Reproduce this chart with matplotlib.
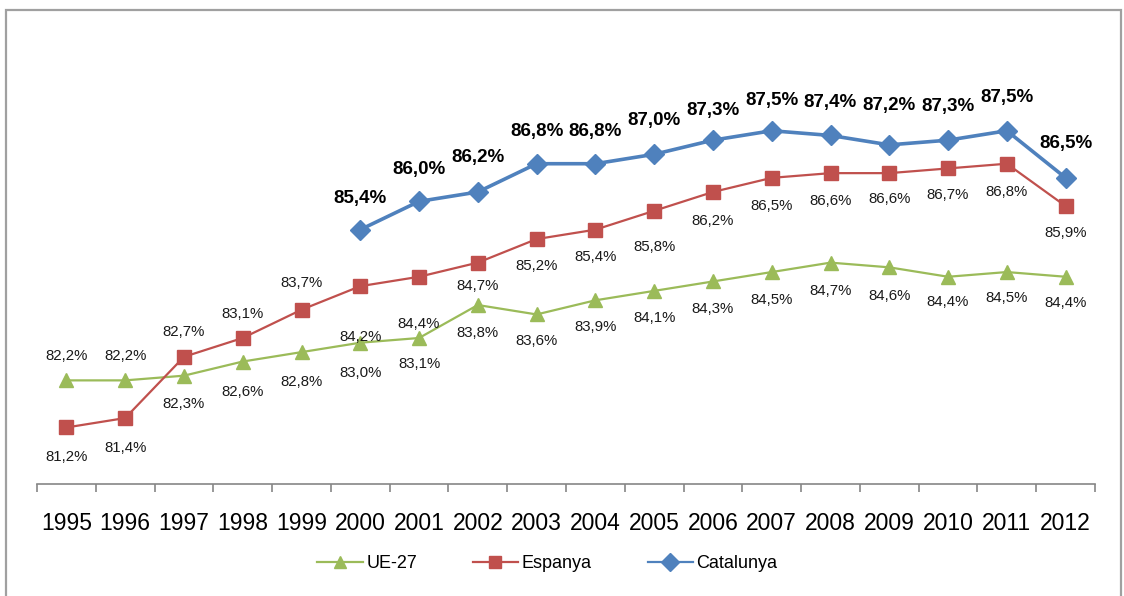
import matplotlib
matplotlib.use("Agg")
import matplotlib.pyplot as plt
from matplotlib.patches import Rectangle

plt.rcParams['font.family'] = ['Liberation Sans', 'DejaVu Sans']

years = [str(y) for y in range(1995, 2013)]
ue27 = [82.2, 82.2, 82.3, 82.6, 82.8, 83.0, 83.1, 83.8, 83.6, 83.9, 84.1,
        84.3, 84.5, 84.7, 84.6, 84.4, 84.5, 84.4]
espanya = [81.2, 81.4, 82.7, 83.1, 83.7, 84.2, 84.4, 84.7, 85.2, 85.4, 85.8,
           86.2, 86.5, 86.6, 86.6, 86.7, 86.8, 85.9]
cat_years = [str(y) for y in range(2000, 2013)]
catalunya = [85.4, 86.0, 86.2, 86.8, 86.8, 87.0, 87.3, 87.5, 87.4, 87.2,
             87.3, 87.5, 86.5]

# vertical label offsets in pixels (positive = above the marker)
ue_off = [24, 24, -28, -30, -30, -30, -26, -28, -27, -27, -27, -28, -28,
          -28, -29, -25, -26, -26]
es_off = [-30, -30, 25, 24, 27, -51, -47, -23, -27, -27, -36, -29, -28,
          -28, -26, -27, -28, -27]
cat_off = [31, 32, 34, 32, 32, 34, 30, 30, 33, 39, 34, 33, 34]

GREEN = '#9BBB59'
RED = '#C0504D'
BLUE = '#4F81BD'

W, H = 1124, 596
fig = plt.figure(figsize=(W / 100, H / 100), dpi=100)
fig.patch.set_facecolor('white')

# outer chart frame (bottom edge runs off the canvas)
fig.patches.append(Rectangle((6 / W, -0.05), (1121 - 6) / W, 1.05 - 10 / H,
                             transform=fig.transFigure, fill=False,
                             edgecolor='#a0a0a0', linewidth=1.6))

ax = fig.add_axes([37 / W, (H - 484) / H, (1095 - 37) / W, (484 - 13) / H])
x = list(range(len(years)))
xc = [years.index(y) for y in cat_years]

l1, = ax.plot(x, ue27, color=GREEN, lw=1.6, marker='^', ms=10,
              markeredgecolor=GREEN, label='UE-27')
l2, = ax.plot(x, espanya, color=RED, lw=1.6, marker='s', ms=10.5,
              markeredgecolor=RED, label='Espanya')
l3, = ax.plot(xc, catalunya, color=BLUE, lw=2.6, marker='D', ms=10.5,
              markeredgecolor=BLUE, label='Catalunya')


def fmt(v):
    return f"{v:.1f}".replace('.', ',') + '%'


for xi, v, o in zip(x, ue27, ue_off):
    ax.annotate(fmt(v), (xi, v), xytext=(0, o), textcoords='offset pixels',
                ha='center', va='center', fontsize=10.8, color='#1a1a1a')
for xi, v, o in zip(x, espanya, es_off):
    ax.annotate(fmt(v), (xi, v), xytext=(0, o), textcoords='offset pixels',
                ha='center', va='center', fontsize=10.8, color='#1a1a1a')
for xi, v, o in zip(xc, catalunya, cat_off):
    ax.annotate(fmt(v), (xi, v), xytext=(0, o), textcoords='offset pixels',
                ha='center', va='center', fontsize=13.5, fontweight='bold',
                color='black')

ax.set_xlim(-0.5, len(years) - 0.5)
ax.set_ylim(80, 90)
ax.set_xticks(x)
ax.set_xticklabels(years, fontsize=16.5)
ax.set_xticks([i - 0.5 for i in range(len(years) + 1)], minor=True)
ax.tick_params(axis='x', which='major', length=0, pad=20)
ax.tick_params(axis='x', which='minor', length=6, color='#868686', width=1.2)
ax.set_yticks([])
for s in ['left', 'right', 'top']:
    ax.spines[s].set_visible(False)
ax.spines['bottom'].set_color('#868686')
ax.spines['bottom'].set_linewidth(1.2)
ax.patch.set_alpha(0)

leg = fig.legend(handles=[l1, l2, l3], loc='center', ncol=3,
                 bbox_to_anchor=(0.487, 1 - 564 / H), frameon=False,
                 fontsize=13, handlelength=2.5, handletextpad=0.2,
                 columnspacing=3.1, markerscale=0.85)
for h in leg.legend_handles:
    h.set_linewidth(1.6)

fig.savefig('out.png', dpi=100)
